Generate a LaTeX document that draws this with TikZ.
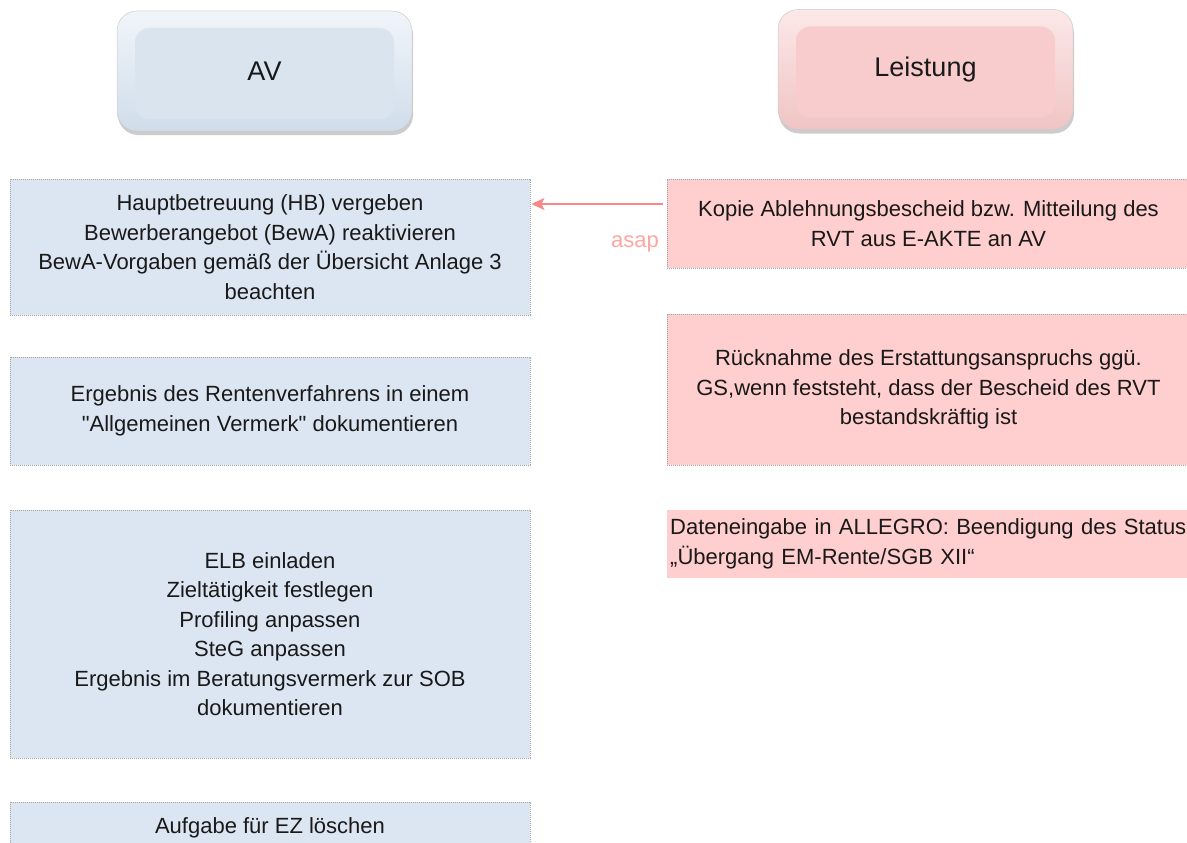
\documentclass[tikz,border=0pt]{standalone}
\usepackage{fontspec}
\newfontfamily\mainf{Liberation Sans}
\usetikzlibrary{shadows,arrows.meta,calc}
\definecolor{bluebox}{RGB}{220,230,242}
\definecolor{pinkbox}{RGB}{255,206,206}
\definecolor{dotgray}{RGB}{165,165,165}
\definecolor{arrowpink}{RGB}{250,135,135}
\definecolor{asappink}{RGB}{255,165,165}
\definecolor{avface}{RGB}{217,228,239}
\definecolor{avtop}{RGB}{240,245,250}
\definecolor{avside}{RGB}{208,221,234}
\definecolor{lface}{RGB}{248,204,204}
\definecolor{ltop}{RGB}{252,232,232}
\definecolor{lside}{RGB}{240,196,196}
\definecolor{txt}{RGB}{25,25,25}
\begin{document}
\begin{tikzpicture}[x=1pt,y=-1pt,
  task/.style={draw=dotgray, line width=0.9pt, dash pattern=on 0.9pt off 1.1pt,
    inner sep=0pt, align=center, font=\mainf\fontsize{22}{29.5}\selectfont, text=txt},
  avtask/.style={task, fill=bluebox, minimum width=520pt},
  ltask/.style={task, fill=pinkbox, minimum width=523pt},
  head/.style={rounded corners=20pt, minimum width=295pt, minimum height=120pt,
    inner sep=0pt, font=\mainf\fontsize{27}{32}\selectfont, text=txt,
    draw=gray!40, line width=0.5pt,
    drop shadow={shadow xshift=1pt, shadow yshift=-4pt, opacity=0.2, fill=black}},
  avhead/.style={head, top color=avtop, bottom color=avside,
    path picture={\fill[avface, rounded corners=14pt]
      ([shift={(18,17)}]path picture bounding box.north west) rectangle
      ([shift={(-18,-12)}]path picture bounding box.south east);}},
  lhead/.style={head, top color=ltop, bottom color=lside,
    path picture={\fill[lface, rounded corners=14pt]
      ([shift={(18,17)}]path picture bounding box.north west) rectangle
      ([shift={(-18,-12)}]path picture bounding box.south east);}},
  conn/.style={draw=arrowpink, line width=1.5pt,
    -{Stealth[length=13pt,width=12pt,inset=3pt]}}
]
\path[use as bounding box] (0,0) rectangle (1187,843);
\clip (0,0) rectangle (1187,843);

% headers
\node[avhead] (av) at (264.5,71) {AV};
\node[lhead] (leist) at (925.5,69.5) {Leistung};

% AV column
\node[avtask, minimum height=136pt] (b1) at (270,247)
  {Hauptbetreuung (HB) vergeben\\Bewerberangebot (BewA) reaktivieren\\BewA-Vorgaben gemäß der Übersicht Anlage 3\\beachten};
\node[avtask, minimum height=108pt] (b2) at (270,411)
  {Ergebnis des Rentenverfahrens in einem\\"Allgemeinen Vermerk" dokumentieren};
\node[avtask, minimum height=248pt] (b3) at (270,634)
  {ELB einladen\\Zieltätigkeit festlegen\\Profiling anpassen\\SteG anpassen\\Ergebnis im Beratungsvermerk zur SOB\\dokumentieren};
\node[avtask, minimum height=52pt] (b4) at (270,828)
  {Aufgabe für EZ löschen};

% Leistung column
\node[ltask, minimum height=89pt] (p1) at (928.5,223.5)
  {Kopie Ablehnungsbescheid bzw. Mitteilung des\\RVT aus E-AKTE an AV};
\node[ltask, minimum height=151pt] (p2) at (928.5,389.5)
  {Rücknahme des Erstattungsanspruchs ggü.\\GS,wenn feststeht, dass der Bescheid des RVT\\bestandskräftig ist};
\node[fill=pinkbox, anchor=west, text width=517pt, inner xsep=3pt, inner ysep=0pt,
  minimum height=68pt, align=left, font=\mainf\fontsize{22}{29.5}\selectfont, text=txt]
  (p3) at (667,544)
  {Dateneingabe in ALLEGRO: Beendigung des Status\\„Übergang EM-Rente/SGB XII“};

% connector
\coordinate (row) at (600,204);
\draw[conn, shorten <=4pt, shorten >=1pt] (p1.west |- row) -- (b1.east |- row);
\node[anchor=base east, inner sep=0pt, text=asappink, font=\mainf\fontsize{22}{26}\selectfont]
  (asap) at (659,247) {asap};
\end{tikzpicture}
\end{document}
